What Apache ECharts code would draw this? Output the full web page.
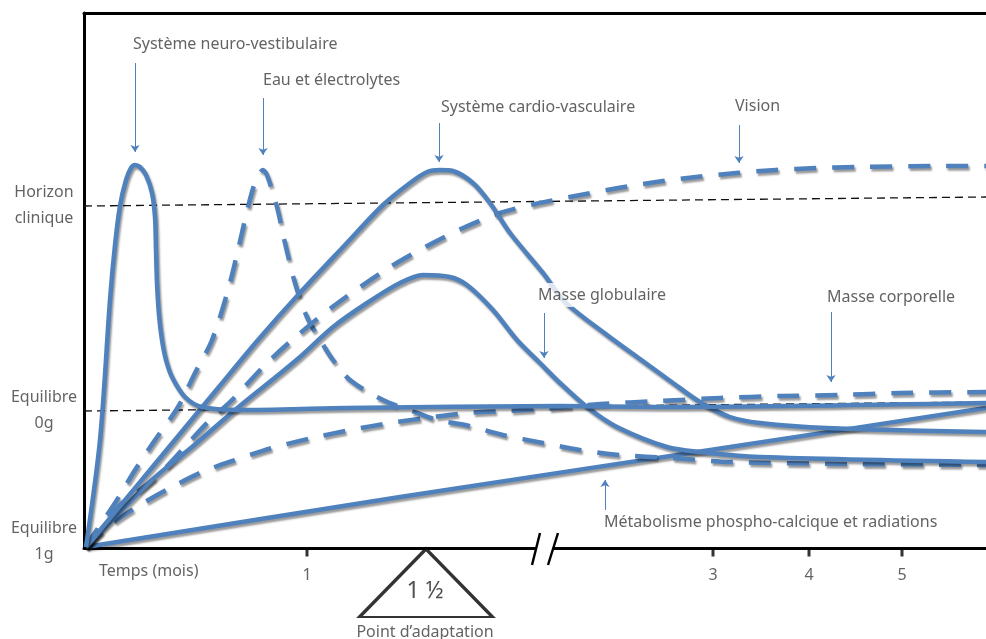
<!DOCTYPE html>
<html>
<head>
<meta charset="utf-8">
<script src="https://cdn.jsdelivr.net/npm/echarts@6/dist/echarts.min.js"></script>
<style>
html,body{margin:0;padding:0;background:#fff;}
#chart{width:986px;height:639px;}
</style>
</head>
<body>
<div id="chart"></div>
<script>
// ---- data (x: time units along the axis, y: level units above "Equilibre 1g") ----
var neuroVestibulaire = [[2,1],[16,108],[26,248],[31,303],[36,342],[42,368],[47,380],[51,383],[56,381],[62,373],[68,355],[71,331],[72,298],[73,265],[75,233],[78,208],[82,188],[88,171],[101,151],[118,141],[156,138],[261,140],[476,142],[572,141],[902,145]];
var eauElectrolytes = [[2,1],[8,11],[31,45],[51,78],[71,108],[94,141],[111,175],[128,208],[144,258],[154,298],[164,341],[171,365],[179,378],[183,373],[193,341],[201,305],[211,265],[223,231],[238,205],[249,188],[266,168],[299,148],[331,136],[353,128],[381,123],[419,113],[459,105],[496,98],[536,93],[588,90],[646,86],[766,84],[902,83]];
var cardioVasculaire = [[2,1],[66,78],[134,160],[174,208],[214,253],[261,303],[299,343],[326,365],[343,376],[356,378],[369,377],[389,365],[406,345],[426,315],[459,275],[481,246],[523,213],[556,189],[589,165],[616,146],[646,131],[676,125],[743,120],[902,116]];
var masseGlobulaire = [[2,1],[68,68],[108,101],[151,138],[188,168],[216,191],[249,221],[283,245],[316,265],[339,273],[366,271],[383,263],[409,238],[433,208],[456,185],[476,165],[503,141],[533,121],[583,101],[616,96],[676,91],[902,86]];
var vision = [[2,1],[34,41],[71,70],[98,98],[124,126],[148,148],[181,183],[208,208],[251,243],[306,281],[343,302],[379,320],[416,335],[451,344],[491,352],[534,360],[572,366],[612,371],[652,375],[692,378],[732,380],[772,381],[852,382],[902,382]];
var masseCorporelle = [[2,1],[26,23],[56,43],[86,60],[118,76],[151,88],[188,100],[228,110],[266,118],[306,125],[349,131],[383,135],[423,137],[459,139],[516,144],[576,147],[636,150],[696,152],[756,153],[816,155],[902,156]];
var phosphoCalcique = [[2,1],[316,51],[646,101],[902,140]];
var horizonClinique = [[0,342],[902,351]];
var equilibre0g = [[0,137],[902,146]];

var tickValues = [223, 629, 725, 818];
var tickLabels = ['1', '3', '4', '5'];
var yLabelValues = [343, 137.5, 7];
var yLabels = ['Horizon\nclinique', 'Equilibre\n0g', 'Equilibre\n1g'];

var annotations = [
  {text: 'Système neuro-vestibulaire', at: [47, 504], arrow: [[51, 485], [51, 396]]},
  {text: 'Eau et électrolytes', at: [177, 468], arrow: [[179, 450], [179, 393]]},
  {text: 'Système cardio-vasculaire', at: [355, 441], arrow: [[355, 425], [355, 386]]},
  {text: 'Vision', at: [649, 442], arrow: [[655, 423], [655, 385]]},
  {text: 'Masse globulaire', at: [452, 253], arrow: [[460, 235], [460, 190]]},
  {text: 'Masse corporelle', at: [741, 251], arrow: [[747, 236], [747, 166]]},
  {text: 'Métabolisme phospho-calcique et radiations', at: [518, 26], arrow: [[521, 38], [521, 68]]}
];

// ---- styling ----
var BLUE = '#4f81bd';
var TEXT = '#3b3b3b';
var FONT = 'Noto Sans';
var FS = 16;
function curve(name, data, dashed) {
  return {
    name: name, type: 'line', data: data, symbol: 'none', smooth: 0.3,
    clip: false, z: 3,
    lineStyle: {
      color: BLUE, width: 4.5, type: dashed ? [22, 16] : 'solid',
      shadowColor: 'rgba(0,0,0,0.4)', shadowBlur: 2, shadowOffsetX: 1.5, shadowOffsetY: 2.5
    }
  };
}
function refLine(name, data) {
  return {name: name, type: 'line', data: data, symbol: 'none', z: 2, silent: true,
    lineStyle: {color: '#111', width: 1.3, type: [8, 5]}};
}

var chart = echarts.init(document.getElementById('chart'), null, {renderer: 'canvas'});
var option = {
  animation: false,
  backgroundColor: '#fff',
  grid: {left: 84, right: 0, top: 13, bottom: 91},
  xAxis: [
    {type: 'value', min: 0, max: 902, position: 'bottom',
      axisLine: {show: true, onZero: false, lineStyle: {color: '#000', width: 3}},
      axisTick: {show: false}, axisLabel: {show: false}, splitLine: {show: false}},
    {type: 'value', min: 0, max: 902, position: 'top',
      axisLine: {show: true, onZero: false, lineStyle: {color: '#000', width: 3}},
      axisTick: {show: false}, axisLabel: {show: false}, splitLine: {show: false}}
  ],
  yAxis: {type: 'value', min: 0, max: 535,
    axisLine: {show: true, onZero: false, lineStyle: {color: '#000', width: 3}},
    axisTick: {show: false}, axisLabel: {show: false}, splitLine: {show: false}},
  series: [
    refLine('Horizon clinique', horizonClinique),
    refLine('Equilibre 0g', equilibre0g),
    curve('Métabolisme phospho-calcique', phosphoCalcique, false),
    curve('Masse corporelle', masseCorporelle, true),
    curve('Eau et électrolytes', eauElectrolytes, true),
    curve('Vision', vision, true),
    curve('Masse globulaire', masseGlobulaire, false),
    curve('Système cardio-vasculaire', cardioVasculaire, false),
    curve('Système neuro-vestibulaire', neuroVestibulaire, false),
    // dummy series so the top axis is drawn
    {type: 'line', xAxisIndex: 1, data: [], symbol: 'none'},
    // arrows
    {type: 'lines', coordinateSystem: 'cartesian2d', clip: false, z: 6, silent: true,
      symbol: ['none', 'arrow'], symbolSize: 7,
      lineStyle: {color: BLUE, width: 1, opacity: 1},
      data: annotations.map(function (a) { return {coords: a.arrow}; })},
    // annotation texts
    {type: 'scatter', clip: false, z: 7, symbolSize: 0, silent: true,
      data: annotations.map(function (a) { return {name: a.text, value: a.at}; }),
      label: {show: true, position: 'right', distance: 0, formatter: '{b}',
        color: TEXT, fontFamily: FONT, fontSize: FS, backgroundColor: '#fff', padding: [6, 2, 2, 2]}},
    // axis break
    {type: 'lines', coordinateSystem: 'cartesian2d', clip: false, z: 8, silent: true,
      lineStyle: {color: '#fff', width: 7, opacity: 1},
      data: [{coords: [[452, 0], [470, 0]]}]},
    {type: 'lines', coordinateSystem: 'cartesian2d', clip: false, z: 9, silent: true,
      lineStyle: {color: '#000', width: 2.5, opacity: 1},
      data: [{coords: [[448, -17], [456, 15]]}, {coords: [[464, -17], [474, 15]]}]},
    // x ticks
    {type: 'scatter', clip: false, z: 8, silent: true, symbol: 'rect', symbolSize: [3, 9], symbolOffset: [0, 4],
      itemStyle: {color: '#000'},
      data: tickValues.map(function (v) { return [v, 0]; })},
    // x tick labels + axis title
    {type: 'scatter', clip: false, z: 8, silent: true, symbolSize: 0,
      data: tickValues.map(function (v, i) { return {name: tickLabels[i], value: [v, -27]}; }),
      label: {show: true, position: 'inside', formatter: '{b}', color: TEXT, fontFamily: FONT, fontSize: FS}},
    {type: 'scatter', clip: false, z: 8, silent: true, symbolSize: 0,
      data: [{name: 'Temps (mois)', value: [15, -23]}],
      label: {show: true, position: 'right', distance: 0, formatter: '{b}', color: TEXT, fontFamily: FONT, fontSize: FS}},
    // y labels
    {type: 'scatter', clip: false, z: 8, silent: true, symbolSize: 0,
      data: yLabelValues.map(function (v, i) { return {name: yLabels[i], value: [0, v]}; }),
      label: {show: true, position: 'inside', offset: [-40, 0], align: 'center', verticalAlign: 'middle',
        formatter: '{b}', color: TEXT, fontFamily: FONT, fontSize: FS, lineHeight: 26}},
    // adaptation point
    {type: 'scatter', clip: false, z: 8, silent: true, symbol: 'triangle', symbolSize: [133, 68],
      itemStyle: {color: '#fff', borderColor: '#000', borderWidth: 3},
      data: [[342, -35]]},
    {type: 'scatter', clip: false, z: 9, silent: true, symbolSize: 0,
      data: [{name: '1 ½', value: [341, -43]}],
      label: {show: true, position: 'inside', formatter: '{b}', color: '#222', fontFamily: FONT, fontSize: 23}},
    {type: 'scatter', clip: false, z: 9, silent: true, symbolSize: 0,
      data: [{name: 'Point d’adaptation', value: [341, -84]}],
      label: {show: true, position: 'inside', formatter: '{b}', color: TEXT, fontFamily: FONT, fontSize: 16}}
  ]
};
chart.setOption(option);
</script>
</body>
</html>
